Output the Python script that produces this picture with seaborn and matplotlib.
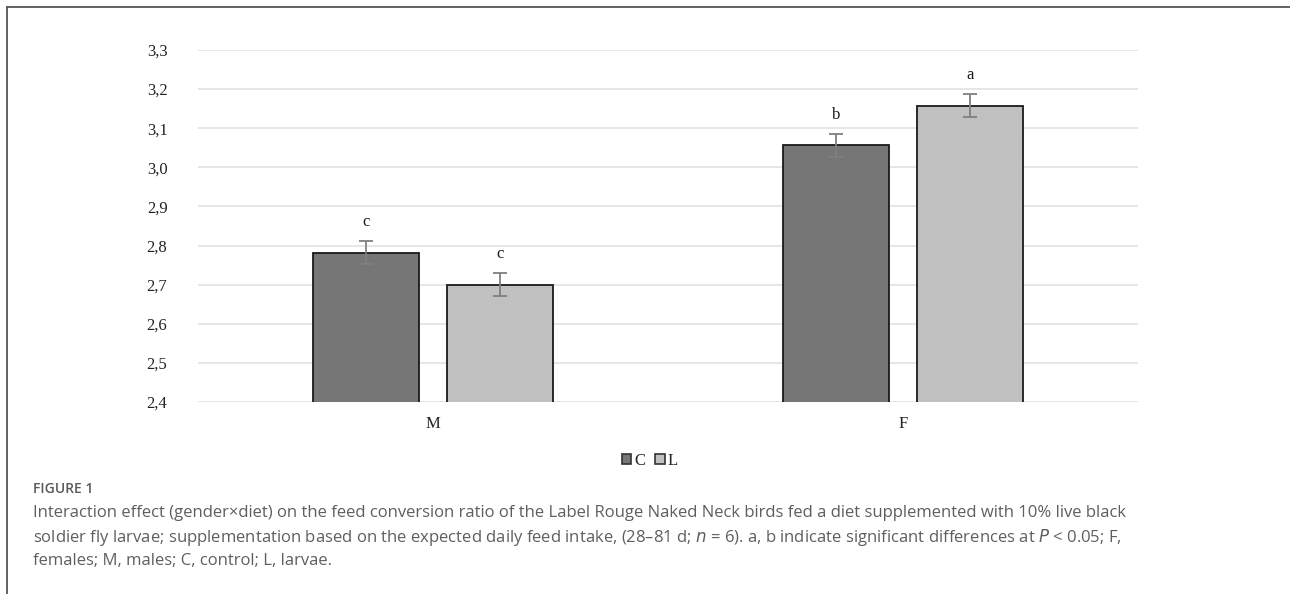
import pandas as pd
import seaborn as sns
import matplotlib.pyplot as plt
from matplotlib.lines import Line2D
from matplotlib.patches import Patch
from matplotlib.ticker import FuncFormatter

# values
genders = ["M", "M", "F", "F"]
diets = ["C", "L", "C", "L"]
fcr = [2.782, 2.700, 3.056, 3.158]
fcr_err = [0.03, 0.03, 0.03, 0.03]
letters = ["c", "c", "b", "a"]

df = pd.DataFrame({"Gender": genders, "Diet": diets, "FCR": fcr})

sns.set_style("white")
plt.rcParams['font.family'] = ['Liberation Serif', 'DejaVu Serif']

fig = plt.figure(figsize=(12.9, 5.94), dpi=100)
ax = fig.add_axes([198 / 1290, 1 - 402 / 594, 940 / 1290, 352 / 594])

pal = {"C": "#767676", "L": "#c0c0c0"}
sns.barplot(data=df, x="Gender", y="FCR", hue="Diet", order=["M", "F"],
            hue_order=["C", "L"], palette=pal, width=0.57, gap=0.21,
            edgecolor="#1a1a1a", linewidth=1.3, errorbar=None, legend=False,
            ax=ax, zorder=3)

# error bars and letters on top of each bar
bars = [p for p in ax.patches if p.get_height() > 0]
bars = sorted(bars, key=lambda p: p.get_x())
for p, err, lab in zip(bars, fcr_err, letters):
    xc = p.get_x() + p.get_width() / 2
    top = p.get_y() + p.get_height()
    ax.errorbar(xc, top, yerr=err, fmt="none", ecolor="#7f7f7f",
                elinewidth=1.3, capsize=5, capthick=1.3, zorder=4)
    ax.text(xc, top + err + 0.028, lab, ha="center", va="bottom",
            fontsize=12, color="#1a1a1a")

ax.set_ylim(2.4, 3.3)
ax.set_yticks([2.4 + 0.1 * i for i in range(10)])
ax.yaxis.set_major_formatter(FuncFormatter(lambda v, pos: f"{v:.1f}".replace(".", ",")))
ax.set_xlim(-0.5, 1.5)
ax.grid(axis="y", color="#e2e2e2", linewidth=1.2, zorder=0)
ax.set_axisbelow(True)
for s in ax.spines.values():
    s.set_visible(False)
ax.tick_params(axis="both", length=0, labelsize=12, colors="#222222")
ax.tick_params(axis="y", pad=22)
ax.tick_params(axis="x", pad=10)
ax.set_xlabel("")
ax.set_ylabel("")

handles = [Patch(facecolor=pal[k], edgecolor="#333333", linewidth=1.2, label=k) for k in ["C", "L"]]
fig.legend(handles=handles, loc="center", bbox_to_anchor=(650 / 1290, 1 - 461 / 594),
           ncol=2, frameon=False, fontsize=12, handlelength=0.55, handleheight=0.55,
           handletextpad=0.2, columnspacing=0.6)

# panel frame
fig.add_artist(Line2D([7 / 1290, 1], [1 - 7 / 594, 1 - 7 / 594], color="#555555", linewidth=1.3))
fig.add_artist(Line2D([7 / 1290, 7 / 1290], [0, 1 - 7 / 594], color="#555555", linewidth=1.3))

cap = ["Open Sans", "DejaVu Sans"]
fig.text(33 / 1290, 1 - 489 / 594, "FIGURE 1", family=cap, fontsize=10, color="#5a5a5a",
         va="center", fontweight="semibold")
fig.text(33 / 1290, 1 - 513 / 594,
         "Interaction effect (gender\u00d7diet) on the feed conversion ratio of the Label Rouge Naked Neck birds fed a diet supplemented with 10% live black",
         family=cap, fontsize=12, color="#5e5e5e", va="center")
fig.text(33 / 1290, 1 - 537 / 594,
         "soldier fly larvae; supplementation based on the expected daily feed intake, (28\u201381 d; $n$ = 6). a, b indicate significant differences at $P$ < 0.05; F,",
         family=cap, fontsize=12, color="#5e5e5e", va="center")
fig.text(33 / 1290, 1 - 561 / 594, "females; M, males; C, control; L, larvae.",
         family=cap, fontsize=12, color="#5e5e5e", va="center")

plt.savefig("out.png", dpi=100)
plt.close(fig)
